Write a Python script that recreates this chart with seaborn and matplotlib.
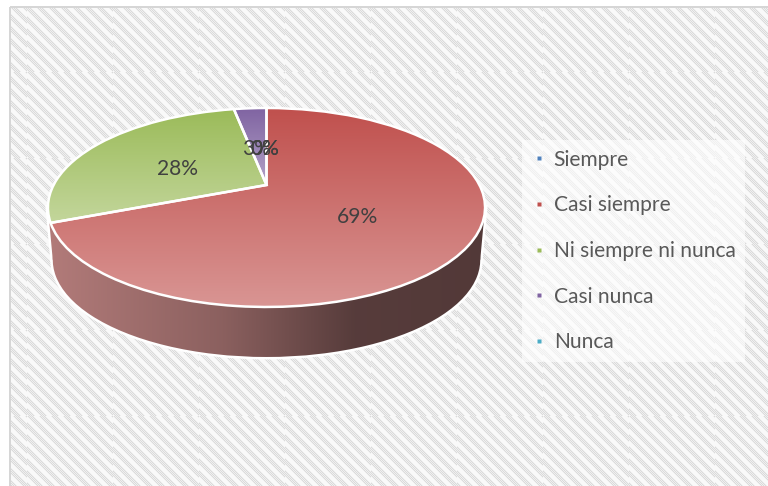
import numpy as np
import matplotlib
matplotlib.use("Agg")
import matplotlib.pyplot as plt
import seaborn as sns
from matplotlib.transforms import Transform
from matplotlib.patches import Wedge, Polygon, Rectangle
from matplotlib.lines import Line2D
from matplotlib.colors import to_rgb

# ---------------- data ----------------
categories = ["Siempre", "Casi siempre", "Ni siempre ni nunca", "Casi nunca", "Nunca"]
values = [0, 69, 28, 3, 0]
slice_colors = ["#4F81BD", "#C0504D", "#9BBB59", "#8064A2", "#4BACC6"]

# ---------------- style ----------------
sns.set_theme(style="white")
plt.rcParams["font.family"] = ["Lato", "DejaVu Sans"]

W, H, DPI = 768, 486, 72
FS = 21


class Perspective(Transform):
    """Maps the unit pie plane to pixel coordinates with a tilted perspective."""
    input_dims = 2
    output_dims = 2
    is_separable = False
    has_inverse = False

    def __init__(self, cx, cy, sx, sy, k):
        super().__init__()
        self.cx, self.cy, self.sx, self.sy, self.k = cx, cy, sx, sy, k

    def transform_non_affine(self, values):
        arr = np.asarray(values, dtype=float)
        xy = arr.reshape(-1, 2)
        u, v = xy[:, 0], xy[:, 1]
        w = 1.0 + self.k * v
        out = np.column_stack([self.cx + self.sx * u / w, self.cy - self.sy * v / w])
        return out.reshape(arr.shape)

    def extremes(self):
        r = 1.0 / np.sqrt(1 - self.k ** 2)
        y = self.cy + self.sy * self.k / (1 - self.k ** 2)
        return self.cx - self.sx * r, self.cx + self.sx * r, y

    def front_y(self):
        return self.cy + self.sy / (1 - self.k)


def lighten(c, f):
    c = np.array(to_rgb(c))
    return c + (1 - c) * f


fig = plt.figure(figsize=(W / DPI, H / DPI), dpi=DPI)
fig.patch.set_facecolor("white")
ax = fig.add_axes([0, 0, 1, 1])

top = Perspective(266.5, 185.0, 212.9, 94.4, 0.226)
bot = Perspective(266.5, 237.7, 212.9 * 0.978, 94.4 * 0.978, 0.226)
lab = Perspective(265.0, 188.0, 218.0, 94.4, 0.226)

wedges, texts, autotexts = ax.pie(
    values, colors=slice_colors, startangle=90, counterclock=False,
    autopct="%1.0f%%", pctdistance=0.48,
    wedgeprops=dict(edgecolor="white", linewidth=2.5),
    textprops=dict(color="#404040", fontsize=FS),
)

# ---- striped background texture (tiled, dithered dark bands) ----
yy, xx = np.mgrid[8:H, 11:W]
tile = 86
period = 12.0
tx = np.mod(xx - 27, tile)
ty = np.mod(yy - 72, tile)
phase = np.mod(tx - ty, period) / period
dark = phase < 0.5
checker = np.mod(xx + yy, 2) == 0
shade = np.full(xx.shape, 249.0)
shade[dark & checker] = 218.0
shade[dark & ~checker] = 240.0
edge = (np.abs(phase - 0.5) < 0.06) | (phase > 0.94)
shade[edge] = 238.0
tex = np.clip(shade, 0, 255).astype(np.uint8)
ax.imshow(np.dstack([tex, tex, tex]), extent=(11, W, H, 8), origin="upper",
          aspect="auto", interpolation="nearest", zorder=0)
ax.add_patch(Rectangle((10, 7), W + 10, H + 10, fill=False, edgecolor="#d6d6d6",
                       lw=2, zorder=0.5))

# ---- top faces with vertical gradient ----
tr_top = top + ax.transData
t = np.linspace(0, 1, 256)[:, None]
for w, val, col in zip(wedges, values, slice_colors):
    w.set_transform(tr_top)
    w.set_zorder(4)
    if val <= 0:
        w.set_linewidth(0)
        continue
    verts = top.transform(w.get_path().vertices)
    x0, x1 = verts[:, 0].min(), verts[:, 0].max()
    y0, y1 = verts[:, 1].min(), verts[:, 1].max()
    base = np.array(to_rgb(col))
    grad = (1 - t) * base + t * lighten(col, 0.4)
    im = ax.imshow(grad[:, None, :], extent=(x0, x1, y1, y0), origin="upper",
                   aspect="auto", interpolation="bilinear", zorder=3)
    im.set_clip_path(w)
    w.set_facecolor("none")

for txt in autotexts:
    txt.set_transform(lab + ax.transData)
    txt.set_va("center_baseline")
    txt.set_zorder(5)

# ---- side wall ----
cum = np.cumsum(values) / np.sum(values) * 360.0
front_idx = int(np.searchsorted(cum, 180.0))
side_base = lighten(slice_colors[front_idx], 0.4)
stops = np.array([0.0, 0.4, 0.7, 1.0])
factors = np.array([0.82, 0.64, 0.40, 0.38])
xs = np.linspace(0, 1, 256)
side_grad = side_base[None, :] * np.interp(xs, stops, factors)[:, None]

xl_t, xr_t, ye_t = top.extremes()
xl_b, xr_b, ye_b = bot.extremes()
outline = Wedge((0, 0), 1, 0, 360, facecolor="none", edgecolor="white", lw=5, zorder=1.5)
outline.set_transform(bot + ax.transData)
ax.add_patch(outline)
quad = Polygon([(xl_t, ye_t), (xr_t, ye_t), (xr_b, ye_b), (xl_b, ye_b)], closed=True,
               facecolor="none", edgecolor="white", lw=5, zorder=1.5)
ax.add_patch(quad)
for clip in (outline, quad):
    im = ax.imshow(side_grad[None, :, :], extent=(xl_t, xr_t, bot.front_y() + 2, ye_t - 2),
                   origin="upper", aspect="auto", interpolation="bilinear", zorder=2)
    im.set_clip_path(clip)

# ---- legend ----
handles = [Line2D([], [], ls="", marker="s", markersize=4, markerfacecolor=c,
                  markeredgecolor="none") for c in slice_colors]
leg = ax.legend(handles, categories, loc="center left",
                bbox_to_anchor=(522 / W, 1 - 251 / H), frameon=True, fontsize=FS,
                labelspacing=1.22, handlelength=0.7, handletextpad=0.36,
                borderpad=0.45, borderaxespad=0, labelcolor="#595959", fancybox=False)
leg.get_frame().set_facecolor("white")
leg.get_frame().set_alpha(0.6)
leg.get_frame().set_edgecolor("none")

ax.set_xlim(0, W)
ax.set_ylim(H, 0)
ax.set_aspect("auto")
ax.axis("off")

fig.savefig("out.png", dpi=DPI, facecolor="white")
